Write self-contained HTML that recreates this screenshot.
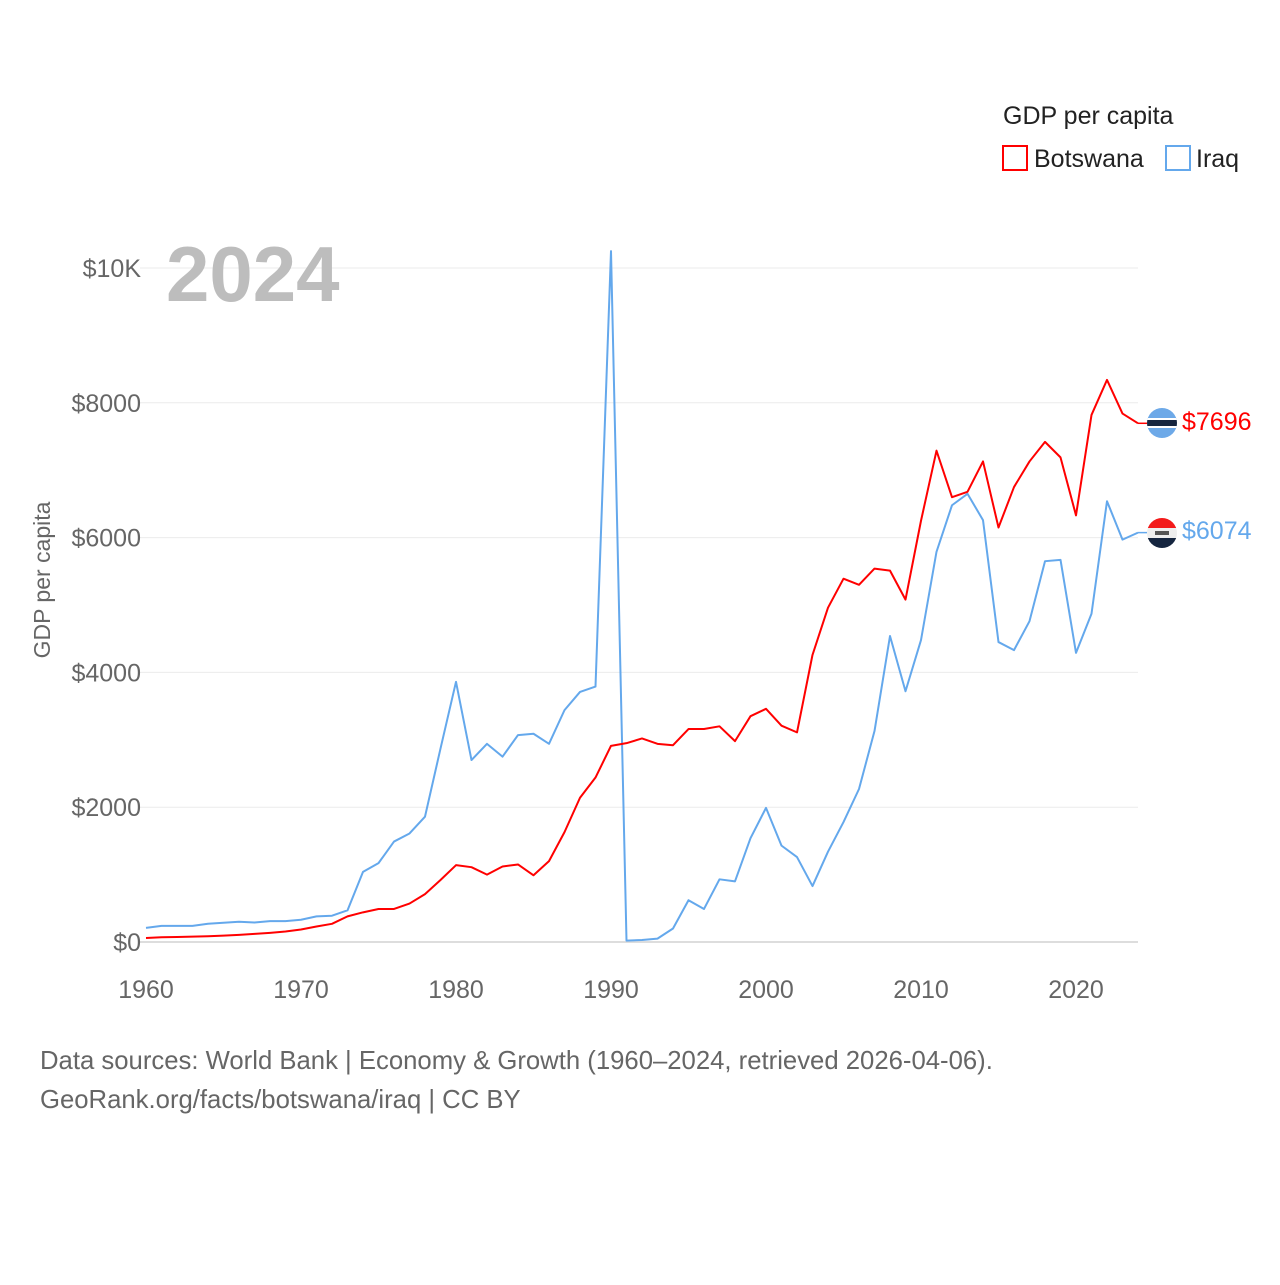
<!DOCTYPE html>
<html><head><meta charset="utf-8"><style>
body{margin:0;background:#fff;font-family:"Liberation Sans",sans-serif;}
svg text{font-family:"Liberation Sans",sans-serif;}
</style></head><body>
<svg width="1280" height="1280" viewBox="0 0 1280 1280" xmlns="http://www.w3.org/2000/svg">
<g id="grid"></g>
<g id="yticks"></g>
<g id="xticks"></g>
<text x="166" y="301" font-size="78" font-weight="bold" fill="#bdbdbd">2024</text>
<text x="50" y="580" font-size="23" fill="#666" transform="rotate(-90 50 580)" text-anchor="middle">GDP per capita</text>
<g id="lines"></g>
<g>
<text x="1003" y="124" font-size="25" fill="#222">GDP per capita</text>
<g><rect x="1003" y="146" width="24" height="24" fill="none" stroke="#ff0000" stroke-width="2"/><text x="1034" y="167" font-size="25" fill="#222">Botswana</text></g>
<g><rect x="1166" y="146" width="24" height="24" fill="none" stroke="#64a8ec" stroke-width="2"/><text x="1196" y="167" font-size="25" fill="#222">Iraq</text></g>
</g>
<g>
<clipPath id="cb"><circle cx="1162" cy="423" r="15"/></clipPath>
<g clip-path="url(#cb)"><rect x="1147" y="408" width="30" height="30" fill="#6da9e8"/><rect x="1147" y="418" width="30" height="10" fill="#fff"/><rect x="1147" y="420" width="30" height="6" fill="#15253f"/></g></g>
<g>
<clipPath id="ci"><circle cx="1162" cy="533" r="15"/></clipPath>
<g clip-path="url(#ci)"><rect x="1147" y="518" width="30" height="10" fill="#f31a1a"/><rect x="1147" y="528" width="30" height="10" fill="#eee"/><rect x="1147" y="538" width="30" height="10" fill="#15253f"/><rect x="1155" y="531" width="14" height="4" fill="#555"/></g></g>
<text x="1182" y="430" font-size="25" fill="#ff0000">$7696</text>
<text x="1182" y="539" font-size="25" fill="#64a8ec">$6074</text>
<text x="40" y="1069" font-size="25.7" fill="#666">Data sources: World Bank | Economy &amp; Growth (1960–2024, retrieved 2026-04-06).</text>
<text x="40" y="1108" font-size="25.7" fill="#666">GeoRank.org/facts/botswana/iraq | CC BY</text>
</svg>
<script>
const years=[];for(let y=1960;y<=2024;y++)years.push(y);
const botswana=[60,70,75,80,85,95,105,120,135,155,185,230,270,380,440,490,490,570,710,920,1140,1110,1000,1120,1150,990,1200,1630,2140,2440,2910,2950,3020,2940,2920,3160,3160,3200,2980,3350,3460,3210,3110,4260,4960,5390,5300,5540,5510,5080,6250,7290,6600,6680,7130,6150,6750,7130,7420,7190,6330,7820,8340,7840,7696];
const iraq=[210,240,240,240,270,285,300,290,310,310,330,380,390,470,1040,1170,1490,1610,1860,2870,3860,2700,2940,2750,3070,3090,2940,3440,3710,3790,10250,20,30,50,200,620,490,930,900,1540,1990,1430,1260,830,1340,1780,2270,3130,4540,3720,4480,5790,6480,6650,6260,4450,4330,4760,5650,5670,4290,4870,6540,5970,6074];
const yTicks=[0,2000,4000,6000,8000,10000];
const yTickLabels=["$0","$2000","$4000","$6000","$8000","$10K"];
const xTicks=[1960,1970,1980,1990,2000,2010,2020];
const NS="http://www.w3.org/2000/svg";
const xs=y=>146+(y-1960)*15.5;
const ys=v=>942-v*0.0674;
const grid=document.getElementById('grid'),yt=document.getElementById('yticks'),xt=document.getElementById('xticks'),lines=document.getElementById('lines');
yTicks.forEach((v,i)=>{
 const l=document.createElementNS(NS,'line');
 l.setAttribute('x1',140);l.setAttribute('x2',1138);l.setAttribute('y1',ys(v));l.setAttribute('y2',ys(v));
 l.setAttribute('stroke',v===0?'#ddd':'#ebebeb');l.setAttribute('stroke-width',v===0?2:1);
 
 
 grid.appendChild(l);
 const t=document.createElementNS(NS,'text');
 t.setAttribute('x',141);t.setAttribute('y',ys(v)+9);t.setAttribute('text-anchor','end');t.setAttribute('font-size','25');t.setAttribute('fill','#666');
 t.textContent=yTickLabels[i];
 
 
 yt.appendChild(t);
});
xTicks.forEach(y=>{
 const t=document.createElementNS(NS,'text');
 t.setAttribute('x',xs(y));t.setAttribute('y',998);t.setAttribute('text-anchor','middle');t.setAttribute('font-size','25');t.setAttribute('fill','#666');
 t.textContent=y;
 
 
 xt.appendChild(t);
});
function draw(vals,color,name){
 const p=document.createElementNS(NS,'polyline');
 p.setAttribute('points',vals.map((v,i)=>xs(years[i])+','+ys(v)).join(' '));
 p.setAttribute('fill','none');p.setAttribute('stroke',color);p.setAttribute('stroke-width',2);p.setAttribute('stroke-linejoin','round');
 
 
 lines.appendChild(p);
 const last=vals[vals.length-1];
 const c=document.createElementNS(NS,'line');
 c.setAttribute('x1',xs(2024));c.setAttribute('x2',1147);c.setAttribute('y1',ys(last));c.setAttribute('y2',ys(last));c.setAttribute('stroke',color);c.setAttribute('stroke-width',1.5);
 
 
 lines.appendChild(c);
}
draw(iraq,'#64a8ec','iraq-line');
draw(botswana,'#ff0000','botswana-line');
</script>
</body></html>
